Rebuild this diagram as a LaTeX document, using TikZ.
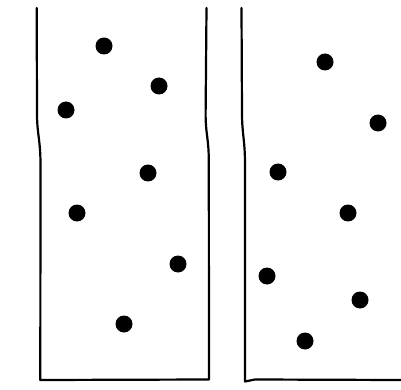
\documentclass[tikz,border=0pt]{standalone}
\usepackage{xcolor}
\usetikzlibrary{positioning}
\tikzset{
    particle/.style={circle, fill=black, minimum size=17pt, inner sep=0pt},
    wall/.style={line width=2.2pt, line join=round, line cap=round},
}

\begin{document}
\begin{tikzpicture}[x=1pt, y=-1pt]
    \useasboundingbox (0,0) rectangle (401,390);
    % container 1: closed on both sides
    \draw[wall] (36.7,8) -- (37,115) .. controls (37.2,135) and (40.5,140) .. (40.5,165)
        -- (40.3,380) -- (209,379.5) -- (208.8,160)
        .. controls (208.6,138) and (205.8,135) .. (205.6,115) -- (206.5,8);
    % container 2: only the left wall shows
    \draw[wall] (241.5,8) -- (242,115) .. controls (242.2,135) and (245,140) .. (245,165)
        -- (245,381.5) -- (255,379.5) -- (401,380);
    % particles in container 1
    \node[particle] (l1) at (104,46) {};
    \node[particle] (l2) at (159,86) {};
    \node[particle] (l3) at (66,110) {};
    \node[particle] (l4) at (148,173) {};
    \node[particle] (l5) at (77,213) {};
    \node[particle] (l6) at (178,264) {};
    \node[particle] (l7) at (124,324) {};
    % particles in container 2
    \node[particle] (r1) at (325,62) {};
    \node[particle] (r2) at (378,123) {};
    \node[particle] (r3) at (278,172) {};
    \node[particle] (r4) at (348,213) {};
    \node[particle] (r5) at (267,276) {};
    \node[particle] (r6) at (360,300) {};
    \node[particle] (r7) at (305,341) {};
\end{tikzpicture}
\end{document}
